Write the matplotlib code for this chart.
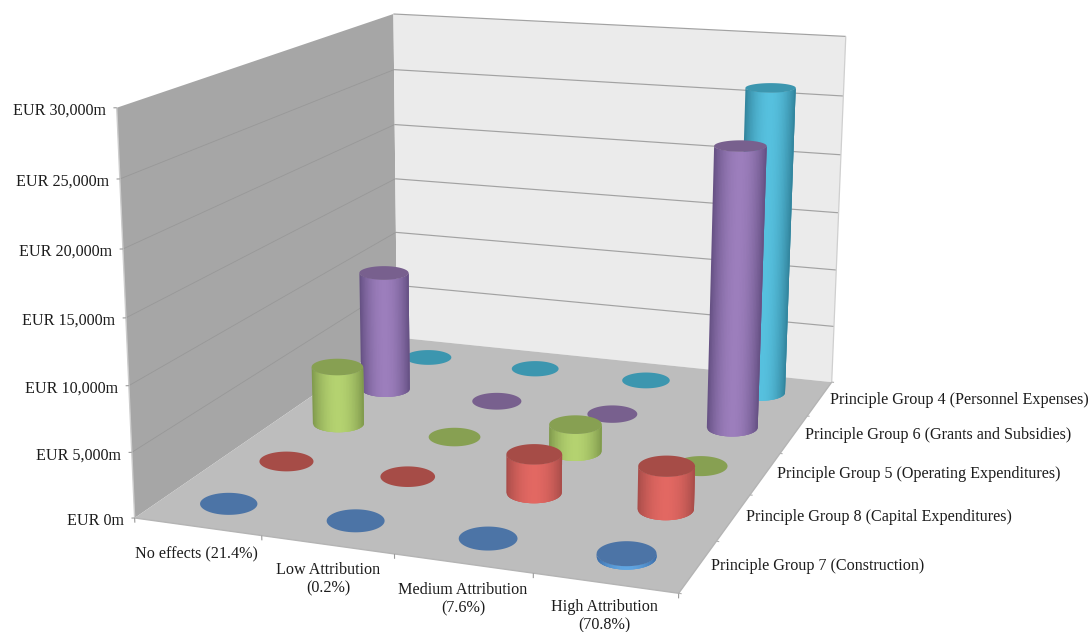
import numpy as np
import matplotlib
matplotlib.use("Agg")
import matplotlib.pyplot as plt
from matplotlib.patches import Polygon

# ---- chart data (EUR million) ----
categories = ["No effects (21.4%)", "Low Attribution\n(0.2%)",
              "Medium Attribution\n(7.6%)", "High Attribution\n(70.8%)"]
series_names = ["Principle Group 7 (Construction)",
                "Principle Group 8 (Capital Expenditures)",
                "Principle Group 5 (Operating Expenditures)",
                "Principle Group 6 (Grants and Subsidies)",
                "Principle Group 4 (Personnel Expenses)"]
group7 = [0, 0, 0, 250]
group8 = [0, 0, 3000, 3300]
group5 = [4800, 0, 2200, 0]
group6 = [10250, 0, 0, 23200]
group4 = [0, 0, 0, 26200]
value_ticks = [0, 5000, 10000, 15000, 20000, 25000, 30000]
value_labels = ["EUR 0m", "EUR 5,000m", "EUR 10,000m", "EUR 15,000m",
                "EUR 20,000m", "EUR 25,000m", "EUR 30,000m"]
series_values = [group7, group8, group5, group6, group4]

# ---- styling ----
FONT = "Liberation Serif"
FS = 11.6
TXT = "#1c1c1c"
palette = [  # (rim/edge, bright centre, cap)
    ((58, 105, 165), (96, 165, 225), (76, 116, 166)),
    ((165, 75, 72), (226, 104, 98), (166, 76, 71)),
    ((125, 150, 75), (180, 210, 112), (135, 160, 82)),
    ((98, 78, 128), (156, 126, 188), (120, 96, 142)),
    ((48, 128, 152), (86, 192, 222), (60, 150, 175)),
]
RX, RY = 0.20, 0.235
ZMAX = 30000.0

fig = plt.figure(figsize=(10.91, 6.32), dpi=100)
ax = fig.add_axes([0, 0, 1, 1])
ax.set_xlim(0, 1091)
ax.set_ylim(632, 0)
ax.axis("off")

# ---- camera: 3x4 projective matrix solved from the box corners ----
# world axes: X = category slot, Y = series slot, Z = value / ZMAX
corners = [((0, 0, 0), (135, 518)), ((4, 0, 0), (678, 594)),
           ((4, 5, 0), (832, 381)), ((0, 5, 0), (397, 338)),
           ((0, 0, 1), (117, 107)), ((0, 5, 1), (393, 14)),
           ((4, 5, 1), (846, 37))]
rows = []
for (X, Y, Z), (u, v) in corners:
    rows.append([X, Y, Z, 1, 0, 0, 0, 0, -u * X, -u * Y, -u * Z, -u])
    rows.append([0, 0, 0, 0, X, Y, Z, 1, -v * X, -v * Y, -v * Z, -v])
P = np.linalg.svd(np.array(rows, float))[2][-1].reshape(3, 4)


def project(x, y, z):
    x, y, z = np.broadcast_arrays(x, y, z)
    h = P @ np.stack([x, y, z, np.ones_like(x, dtype=float)]).astype(float)
    return np.column_stack([h[0] / h[2], h[1] / h[2]])


def quad(p, fc, zorder=1):
    ax.add_patch(Polygon(project(*np.array(p, float).T), closed=True, fc=fc,
                         ec="none", zorder=zorder))


def line(a, b, color, lw=0.8, zorder=2):
    pts = project(*np.array([a, b], float).T)
    ax.plot(pts[:, 0], pts[:, 1], color=color, lw=lw, zorder=zorder,
            solid_capstyle="butt")


# ---- box ----
quad([(0, 0, 0), (0, 5, 0), (0, 5, 1), (0, 0, 1)], "#a6a6a6")
quad([(0, 5, 0), (4, 5, 0), (4, 5, 1), (0, 5, 1)], "#ebebeb")
quad([(0, 0, 0), (4, 0, 0), (4, 5, 0), (0, 5, 0)], "#bdbdbd")

for t in value_ticks[1:]:
    z = t / ZMAX
    if t < value_ticks[-1]:
        line((0, 0, z), (0, 5, z), "#989898", 0.6)
    line((0, 5, z), (4, 5, z), "#a2a2a2", 0.85)
line((4, 5, 0), (4, 5, 1), "#cfcfcf", 0.9)
line((0, 0, 0), (0, 0, 1), "#cdcdcd", 1.0)
line((0, 0, 0), (4, 0, 0), "#b4b4b4", 1.0)
line((4, 0, 0), (4, 5, 0), "#b4b4b4", 1.0)

# tick marks
for t in value_ticks:
    line((0, 0, t / ZMAX), (-0.02, -0.01, t / ZMAX), "#9a9a9a", 0.8)
for i in range(5):
    line((i, 0, 0), (i, 0, -0.012), "#9a9a9a", 0.8)
for j in range(6):
    line((4, j, 0), (4.02, j, 0), "#b0b0b0", 0.8)


# ---- cylinders ----
def rim(xc, yc, z, th):
    """Level ellipse spanning the projected extent of the circle at height z."""
    sweep = np.linspace(0, 2 * np.pi, 181)
    pts = project(xc + RX * np.cos(sweep), yc + RY * np.sin(sweep), z)
    (x0, y0), (x1, y1) = pts.min(axis=0), pts.max(axis=0)
    return np.column_stack([(x0 + x1) / 2 + (x1 - x0) / 2 * np.cos(th),
                            (y0 + y1) / 2 + (y1 - y0) / 2 * np.sin(th)])


def cylinder(xc, yc, value, colours, order):
    edge, bright, cap = [np.array(c) / 255 for c in colours]
    z1 = value / ZMAX
    if value > 0:
        # Strips painted left to right, each reaching under the next two,
        # so the shading has no seams and the outline stays antialiased.
        n = 36
        s = np.linspace(-1, 1, n + 1)
        for i in range(n):
            th = np.arccos(np.linspace(s[i], s[min(i + 3, n)], 7))
            b, t = rim(xc, yc, 0.0, th), rim(xc, yc, z1, th)
            col = edge + (bright - edge) * np.sin(np.pi * (i + 0.5) / n) ** 0.8
            ax.add_patch(Polygon(np.vstack([b, t[::-1]]), closed=True, fc=col,
                                 ec="none", zorder=order))
    full = np.linspace(0, 2 * np.pi, 145)
    ax.add_patch(Polygon(rim(xc, yc, z1, full), closed=True, fc=cap, ec="none",
                         zorder=order + 0.1))


for j in range(len(series_values) - 1, -1, -1):
    for i, v in enumerate(series_values[j]):
        cylinder(i + 0.5, j + 0.5, v, palette[j], 10 + (4 - j))

# ---- labels ----
tick_xy = project(0.0, 0.0, np.array(value_ticks) / ZMAX)
for (x, y), lab in zip(tick_xy, value_labels):
    ax.text(x - 11, y + 3, lab, ha="right", va="center", family=FONT,
            fontsize=FS, color=TXT)

cat_xy = [(196, 554), (328, 579), (463, 599), (604, 616)]
for (x, y), lab in zip(cat_xy, categories):
    ax.text(x, y, lab, ha="center", va="center", family=FONT, fontsize=FS,
            color=TXT, linespacing=1.15)

ser_xy = [(711, 566), (746, 517), (777, 474), (805, 435), (830, 400)]
for (x, y), lab in zip(ser_xy, series_names):
    ax.text(x, y, lab, ha="left", va="center", family=FONT, fontsize=FS,
            color=TXT)

fig.savefig("out.png", dpi=100)
